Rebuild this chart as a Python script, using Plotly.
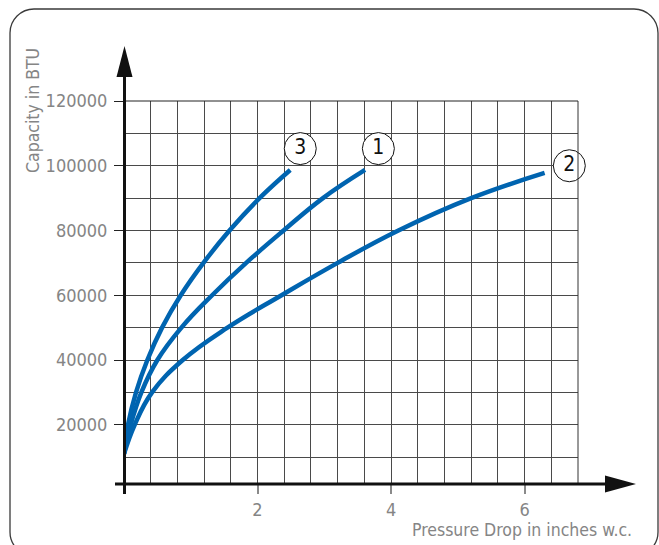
import plotly.graph_objects as go

# Pressure drop (inches w.c.) vs capacity (BTU) for the three curves
pressure_1 = [0, 0.10, 0.26, 0.50, 0.86, 1.32, 1.83, 2.39, 2.98, 3.61]
capacity_1 = [11000, 20000, 30000, 40000, 50000, 60000, 70000, 80000, 90000, 98700]

pressure_2 = [0, 0.16, 0.42, 0.88, 1.55, 2.36, 3.20, 4.11, 5.20, 6.30]
capacity_2 = [11000, 20000, 30000, 40000, 50000, 60000, 70000, 80000, 90000, 97800]

pressure_3 = [0, 0.06, 0.18, 0.35, 0.57, 0.85, 1.19, 1.58, 2.03, 2.49]
capacity_3 = [11000, 20000, 30000, 40000, 50000, 60000, 70000, 80000, 90000, 98700]

curve_names = ["1", "2", "3"]
x_tick_values = [2, 4, 6]
y_tick_values = [20000, 40000, 60000, 80000, 100000, 120000]

W, H = 659, 545
ML, MR, MT, MB = 124, 81, 101, 61
PW, PH = W - ML - MR, H - MT - MB

BLUE = "#0064b0"
GRAY_TXT = "#858585"
FONT = "Liberation Sans Narrow, DejaVu Sans Condensed, Arial Narrow, sans-serif"


def px(xp):
    return (xp - ML) / PW


def py(yp):
    return (H - MB - yp) / PH


fig = go.Figure()

series = [(pressure_1, capacity_1), (pressure_2, capacity_2), (pressure_3, capacity_3)]
for xs, ys in series:
    fig.add_trace(go.Scatter(
        x=xs, y=ys, mode="lines",
        line=dict(color=BLUE, width=4.5, shape="spline", smoothing=1.2),
        hoverinfo="skip", showlegend=False,
    ))

# circled curve numbers, placed just past each curve's end
label_offsets = {"1": (0.2, 6600), "2": (0.37, 2200), "3": (0.15, 6600)}
lx, ly, lt = [], [], []
for name, (xs, ys) in zip(curve_names, series):
    dx, dy = label_offsets[name]
    lx.append(xs[-1] + dx)
    ly.append(ys[-1] + dy)
    lt.append(name)
fig.add_trace(go.Scatter(
    x=lx, y=ly, mode="markers+text", text=lt,
    textposition="middle center",
    textfont=dict(family=FONT, size=21, color="#111111"),
    marker=dict(size=32, color="white", line=dict(color="#111111", width=1)),
    cliponaxis=False, hoverinfo="skip", showlegend=False,
))

GRID = "#4a4a4a"
fig.update_xaxes(
    range=[0, 6.8], tickmode="array", tickvals=x_tick_values,
    ticktext=[str(v) for v in x_tick_values],
    ticks="outside", ticklen=9, tickwidth=1.5, tickcolor="#8a8a8a",
    tickfont=dict(family=FONT, size=18, color=GRAY_TXT),
    showgrid=True, gridcolor=GRID, gridwidth=1,
    minor=dict(tick0=0, dtick=0.4, showgrid=True, gridcolor=GRID, gridwidth=1, ticks=""),
    showline=False, zeroline=False, fixedrange=True,
)
fig.update_yaxes(
    range=[1700, 120000], tickmode="array", tickvals=y_tick_values,
    ticktext=[str(v) for v in y_tick_values],
    ticks="outside", ticklen=9, tickwidth=1.2, tickcolor="#222222",
    ticklabelstandoff=3,
    tickfont=dict(family=FONT, size=18, color=GRAY_TXT),
    showgrid=True, gridcolor=GRID, gridwidth=1,
    minor=dict(tick0=0, dtick=10000, showgrid=True, gridcolor=GRID, gridwidth=1, ticks=""),
    showline=False, zeroline=False, fixedrange=True,
)

shapes = []
# right and top edges of the grid
shapes.append(dict(type="line", xref="paper", yref="paper", x0=1, x1=1, y0=0, y1=1,
                   line=dict(color="#333333", width=1)))
shapes.append(dict(type="line", xref="paper", yref="paper", x0=0, x1=1, y0=1, y1=1,
                   line=dict(color="#222222", width=1)))
# axis lines with arrowheads
shapes.append(dict(type="line", xref="paper", yref="paper",
                   x0=px(124.5), x1=px(124.5), y0=py(494), y1=py(76),
                   line=dict(color="#111111", width=3)))
shapes.append(dict(type="line", xref="paper", yref="paper",
                   x0=px(115), x1=px(606), y0=py(484), y1=py(484),
                   line=dict(color="#111111", width=3)))
shapes.append(dict(type="path", xref="paper", yref="paper",
                   path=f"M {px(124.5)},{py(46)} L {px(116.5)},{py(77)} L {px(132.5)},{py(77)} Z",
                   fillcolor="#111111", line=dict(width=0)))
shapes.append(dict(type="path", xref="paper", yref="paper",
                   path=f"M {px(636)},{py(484)} L {px(605)},{py(475.5)} L {px(605)},{py(492.5)} Z",
                   fillcolor="#111111", line=dict(width=0)))
# rounded outer frame
r, k = 24, 0.55
x0f, x1f, y0f, y1f = 10, 658, 9, 556
frame = (
    f"M {px(x0f)},{py(y1f - r)} L {px(x0f)},{py(y0f + r)} "
    f"C {px(x0f)},{py(y0f + r - k * r)} {px(x0f + r - k * r)},{py(y0f)} {px(x0f + r)},{py(y0f)} "
    f"L {px(x1f - r)},{py(y0f)} "
    f"C {px(x1f - r + k * r)},{py(y0f)} {px(x1f)},{py(y0f + r - k * r)} {px(x1f)},{py(y0f + r)} "
    f"L {px(x1f)},{py(y1f - r)} "
    f"C {px(x1f)},{py(y1f - r + k * r)} {px(x1f - r + k * r)},{py(y1f)} {px(x1f - r)},{py(y1f)} "
    f"L {px(x0f + r)},{py(y1f)} "
    f"C {px(x0f + r - k * r)},{py(y1f)} {px(x0f)},{py(y1f - r + k * r)} {px(x0f)},{py(y1f - r)} Z"
)
shapes.append(dict(type="path", xref="paper", yref="paper", path=frame,
                   line=dict(color="#3a3a3a", width=1.3), layer="below"))

annotations = [
    dict(text="Capacity in BTU", xref="paper", yref="paper", x=px(33), y=py(111),
         textangle=-90, showarrow=False, xanchor="center", yanchor="middle",
         font=dict(family=FONT, size=17.5, color=GRAY_TXT)),
    dict(text="Pressure Drop in inches w.c.", xref="paper", yref="paper", x=px(634), y=py(530),
         showarrow=False, xanchor="right", yanchor="middle",
         font=dict(family=FONT, size=17.5, color=GRAY_TXT)),
]

fig.update_layout(
    width=W, height=H,
    margin=dict(l=ML, r=MR, t=MT, b=MB, pad=0),
    paper_bgcolor="white", plot_bgcolor="white",
    shapes=shapes, annotations=annotations,
    showlegend=False,
)

fig.write_html("out.html", config={"displayModeBar": False})
